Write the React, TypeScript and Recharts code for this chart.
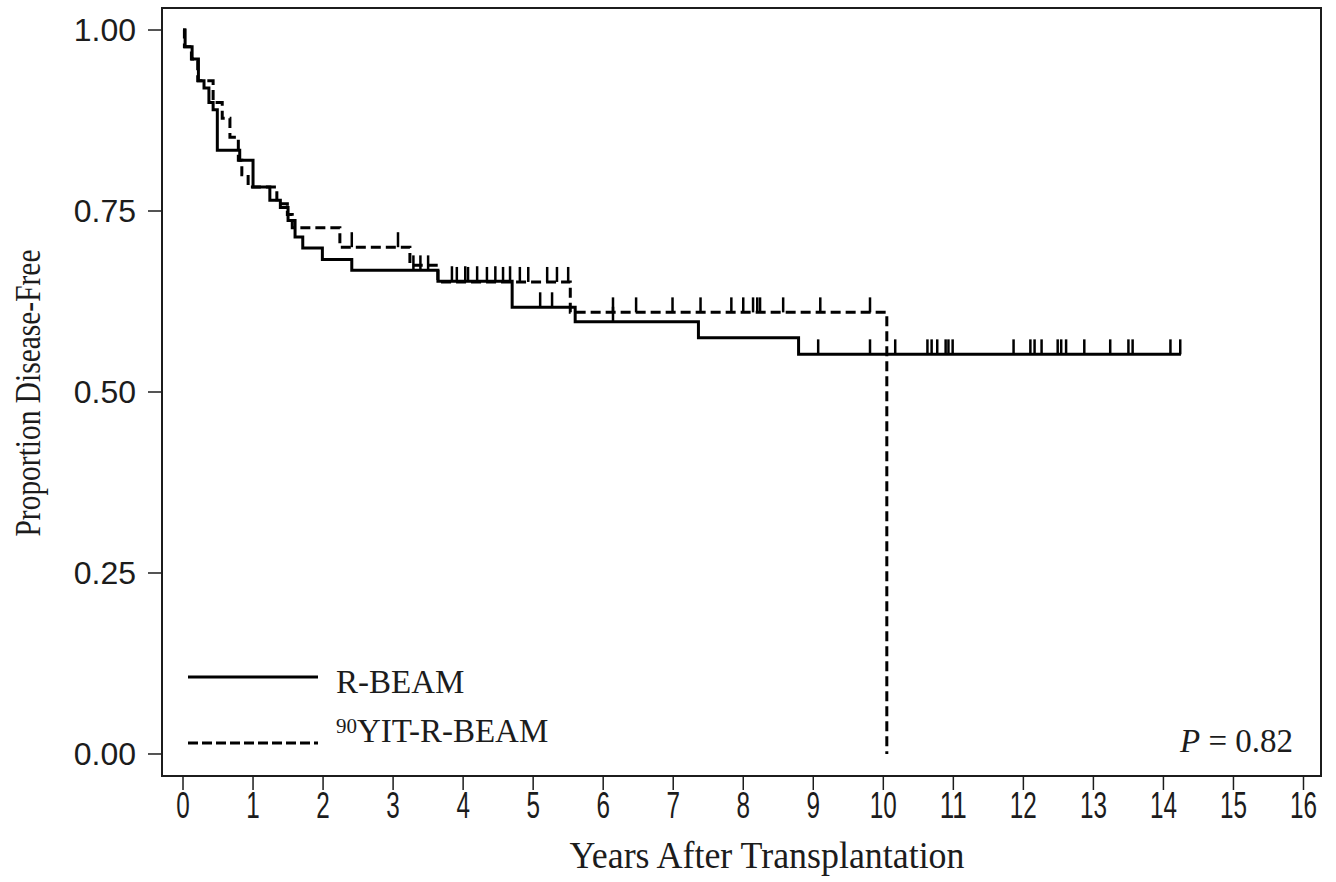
import React from "react";
import {
  ComposedChart,
  Line,
  Scatter,
  XAxis,
  YAxis,
  ReferenceArea,
} from "recharts";

// R-BEAM (solid) Kaplan-Meier steps
const rbeamTimes = [0, 0.03, 0.13, 0.22, 0.3, 0.37, 0.43, 0.49, 0.81, 1.0, 1.24, 1.39, 1.5, 1.6, 1.71, 1.99, 2.41, 3.64, 4.7, 5.6, 7.36, 8.79, 14.25];
const rbeamSurv = [1.0, 0.977, 0.96, 0.93, 0.92, 0.9, 0.89, 0.834, 0.82, 0.783, 0.765, 0.755, 0.737, 0.714, 0.699, 0.683, 0.668, 0.653, 0.617, 0.597, 0.575, 0.552, 0.552];

// 90YIT-R-BEAM (dashed) Kaplan-Meier steps
const yitTimes = [0, 0.02, 0.12, 0.21, 0.43, 0.56, 0.67, 0.79, 0.84, 0.93, 1.34, 1.49, 1.56, 2.24, 3.24, 3.64, 5.53, 10.05, 10.05];
const yitSurv = [1.0, 0.977, 0.96, 0.93, 0.9, 0.878, 0.852, 0.82, 0.8, 0.783, 0.76, 0.745, 0.727, 0.7, 0.675, 0.652, 0.61, 0.61, 0.0];

// censoring marks
const rbeamCensorTimes = [3.29, 3.39, 3.5, 3.84, 4.03, 4.2, 4.46, 4.67, 5.1, 5.27, 6.14, 9.07, 9.81, 10.17, 10.63, 10.69, 10.77, 10.89, 10.93, 10.99, 11.86, 12.1, 12.16, 12.26, 12.49, 12.54, 12.61, 12.87, 13.24, 13.5, 13.56, 14.1, 14.24];
const yitCensorTimes = [2.41, 3.07, 3.91, 4.07, 4.34, 4.57, 4.81, 4.93, 5.2, 5.34, 5.5, 6.14, 6.47, 6.99, 7.39, 7.83, 8.0, 8.14, 8.2, 8.24, 8.57, 9.1, 9.81];

const xTicks = [0, 1, 2, 3, 4, 5, 6, 7, 8, 9, 10, 11, 12, 13, 14, 15, 16];
const yTicks = [0, 0.25, 0.5, 0.75, 1.0];

const X_DOMAIN: [number, number] = [-0.3, 16.25];
const Y_DOMAIN: [number, number] = [-0.0304, 1.0304];

const toRows = (ts: number[], ss: number[]) => ts.map((t, i) => ({ t, s: ss[i] }));

const survAt = (ts: number[], ss: number[], t: number) => {
  let v = ss[0];
  for (let i = 0; i < ts.length; i++) {
    if (ts[i] <= t) v = ss[i];
  }
  return v;
};

const rbeamData = toRows(rbeamTimes, rbeamSurv);
const yitData = toRows(yitTimes, yitSurv);
const rbeamCensor = rbeamCensorTimes.map((t) => ({ t, s: survAt(rbeamTimes, rbeamSurv, t) }));
const yitCensor = yitCensorTimes.map((t) => ({ t, s: survAt(yitTimes.slice(0, -1), yitSurv.slice(0, -1), t) }));

const INK = "#1c1c1c";
const SANS = "'Liberation Sans', Arial, sans-serif";
const SERIF = "'Liberation Serif', 'Times New Roman', serif";

const CensorMark = (props: any) => {
  const { cx, cy } = props;
  if (cx == null || cy == null) return null;
  return <line x1={cx} x2={cx} y1={cy} y2={cy - 15} stroke="#000" strokeWidth={2.5} />;
};

const XTick = (props: any) => {
  const { x, y, payload } = props;
  const label = String(payload.value);
  return (
    <text
      x={x}
      y={y}
      dy={26}
      textAnchor="middle"
      fontSize={36}
      fontFamily={SANS}
      fill={INK}
      textLength={label.length * 13.5}
      lengthAdjust="spacingAndGlyphs"
    >
      {label}
    </text>
  );
};

export default function App() {
  return (
    <div style={{ position: "absolute", left: 0, top: 0, width: 1336, height: 882, background: "#fff" }}>
      <ComposedChart
        width={1336}
        height={882}
        margin={{ top: 8, right: 15, bottom: 0, left: 0 }}
      >
        <XAxis
          type="number"
          dataKey="t"
          domain={X_DOMAIN}
          ticks={xTicks}
          allowDataOverflow
          axisLine={false}
          tickLine={{ stroke: INK, strokeWidth: 1.5 }}
          tickSize={14}
          tickMargin={2}
          height={106}
          tick={<XTick />}
          interval={0}
        />
        <YAxis
          type="number"
          domain={Y_DOMAIN}
          ticks={yTicks}
          allowDataOverflow
          axisLine={false}
          tickLine={{ stroke: INK, strokeWidth: 1.5 }}
          tickSize={14}
          tickMargin={12}
          width={162}
          tickFormatter={(v: number) => v.toFixed(2)}
          tick={{ fontSize: 32, fontFamily: SANS, fill: INK }}
          interval={0}
        />
        <ReferenceArea
          x1={X_DOMAIN[0]}
          x2={X_DOMAIN[1]}
          y1={Y_DOMAIN[0]}
          y2={Y_DOMAIN[1]}
          fill="none"
          fillOpacity={0}
          stroke={INK}
          strokeWidth={2}
          ifOverflow="visible"
        />
        <Line
          data={rbeamData}
          dataKey="s"
          type="stepAfter"
          stroke="#000"
          strokeWidth={3}
          dot={false}
          activeDot={false}
          isAnimationActive={false}
        />
        <Line
          data={yitData}
          dataKey="s"
          type="stepAfter"
          stroke="#000"
          strokeWidth={3}
          strokeDasharray="10 5"
          dot={false}
          activeDot={false}
          isAnimationActive={false}
        />
        <Scatter data={rbeamCensor} dataKey="s" shape={<CensorMark />} isAnimationActive={false} />
        <Scatter data={yitCensor} dataKey="s" shape={<CensorMark />} isAnimationActive={false} />
      </ComposedChart>
      <svg
        width={1336}
        height={882}
        style={{ position: "absolute", left: 0, top: 0, pointerEvents: "none" }}
      >
        <text
          transform="translate(40,393) rotate(-90)"
          textAnchor="middle"
          fontSize={35}
          fontFamily={SERIF}
          fill={INK}
          textLength={287}
          lengthAdjust="spacingAndGlyphs"
        >
          Proportion Disease-Free
        </text>
        <text
          x={767}
          y={868}
          textAnchor="middle"
          fontSize={37}
          fontFamily={SERIF}
          fill={INK}
          textLength={395}
          lengthAdjust="spacingAndGlyphs"
        >
          Years After Transplantation
        </text>
        <line x1={188} x2={318} y1={677} y2={677} stroke="#000" strokeWidth={3} />
        <text x={336} y={693} fontSize={33} fontFamily={SERIF} fill={INK}>
          R-BEAM
        </text>
        <line x1={188} x2={318} y1={743} y2={743} stroke="#000" strokeWidth={3} strokeDasharray="10 4" />
        <text x={336} y={742} fontSize={33} fontFamily={SERIF} fill={INK}>
          <tspan fontSize={21} dy={-9}>90</tspan>
          <tspan dy={9}>YIT-R-BEAM</tspan>
        </text>
        <text x={1293} y={752} textAnchor="end" fontSize={33} fontFamily={SERIF} fill={INK}>
          <tspan fontStyle="italic">P</tspan>
          <tspan> = 0.82</tspan>
        </text>
      </svg>
    </div>
  );
}
